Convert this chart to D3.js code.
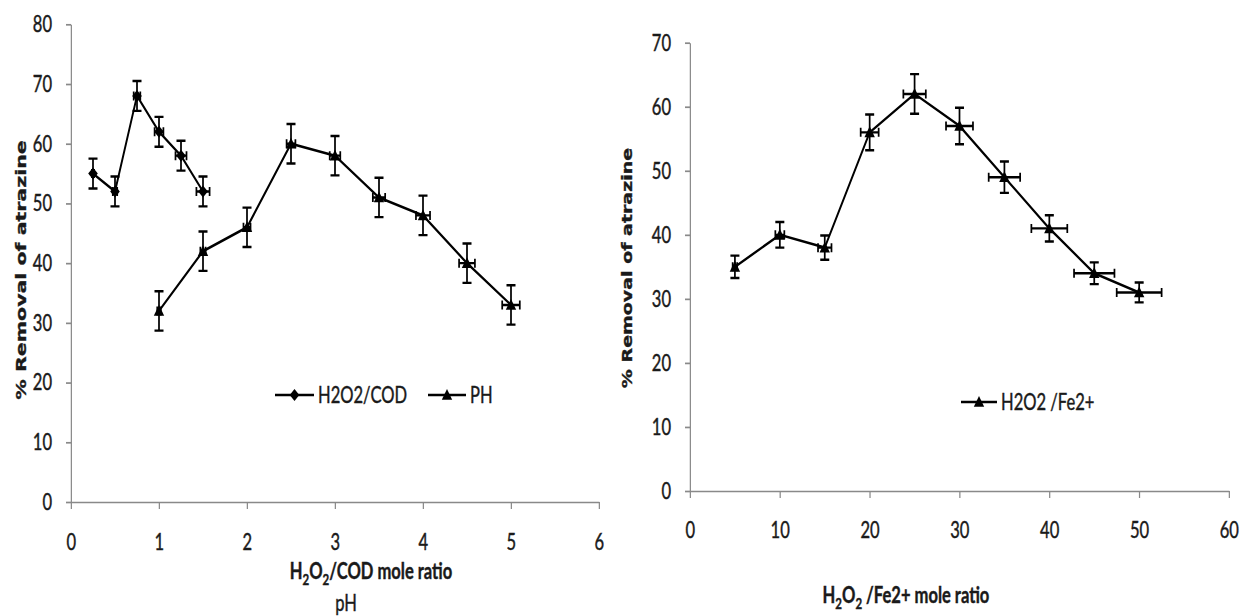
<!DOCTYPE html>
<html>
<head>
<meta charset="utf-8">
<script src="https://cdn.jsdelivr.net/npm/d3@7"></script>
<style>
  body { margin: 0; background: #fff; }
  svg { display: block; }
  svg text { stroke: #1a1a1a; stroke-width: 0.45px; }
</style>
</head>
<body>
<script>
// ---- data ----
// left panel: H2O2/COD series
var codX = [0.25, 0.5, 0.75, 1, 1.25, 1.5];
var codY = [55, 52, 68, 62, 58, 52];
var codYErr = [2.5, 2.5, 2.5, 2.5, 2.5, 2.5];
var codXErr = [0.0125, 0.025, 0.0375, 0.05, 0.0625, 0.075];
// left panel: PH series
var phX = [1, 1.5, 2, 2.5, 3, 3.5, 4, 4.5, 5];
var phY = [32, 42, 46, 60, 58, 51, 48, 40, 33];
var phYErr = [3.3, 3.3, 3.3, 3.3, 3.3, 3.3, 3.3, 3.3, 3.3];
var phXErr = [0.02, 0.03, 0.04, 0.05, 0.06, 0.07, 0.08, 0.09, 0.1];
// right panel: H2O2/Fe2+ series
var feX = [5, 10, 15, 20, 25, 30, 35, 40, 45, 50];
var feY = [35, 40, 38, 56, 62, 57, 49, 41, 34, 31];
var feYErr = [1.75, 2, 1.9, 2.8, 3.1, 2.85, 2.45, 2.05, 1.7, 1.55];
var feXErr = [0.25, 0.5, 0.75, 1, 1.25, 1.5, 1.75, 2, 2.25, 2.5];
// ticks
var leftXTicks = [0, 1, 2, 3, 4, 5, 6];
var leftYTicks = [0, 10, 20, 30, 40, 50, 60, 70, 80];
var rightXTicks = [0, 10, 20, 30, 40, 50, 60];
var rightYTicks = [0, 10, 20, 30, 40, 50, 60, 70];

/* the source image is squeezed horizontally, so draw wide and squash */
var W = 1241, H = 616, K = 0.72;
function sx(px) { return px / K; }

var svg = d3.select("body").append("svg")
  .attr("width", W).attr("height", H)
  .attr("viewBox", "0 0 " + (W / K) + " " + H)
  .attr("preserveAspectRatio", "none");

var axisColor = "#898989", textColor = "#1a1a1a";
var tickFont = "Lato, 'Open Sans', sans-serif";
var fs = 23;

function markerPath(type) {
  if (type === "diamond")
    return "M0,-6L" + sx(4.8) + ",0L0,6L" + (-sx(4.8)) + ",0Z";
  return "M0,-6L" + sx(5.2) + ",4.8L" + (-sx(5.2)) + ",4.8Z";
}

function styleAxis(sel) {
  sel.selectAll("path, line").attr("stroke", axisColor).attr("stroke-width", 1.7);
  sel.selectAll("text")
    .attr("fill", textColor)
    .style("font-family", tickFont)
    .style("font-size", fs + "px");
}

function panel(o) {
  var x = d3.scaleLinear().domain(o.xDomain).range([sx(o.left), sx(o.right)]);
  var y = d3.scaleLinear().domain(o.yDomain).range([o.bottom, o.top]);
  var g = svg.append("g");

  // axes
  g.append("g")
    .attr("transform", "translate(0," + y(0) + ")")
    .call(d3.axisBottom(x).tickValues(o.xTicks).tickSize(7).tickSizeOuter(0)
      .tickPadding(o.xPad).tickFormat(d3.format("d")))
    .call(styleAxis);
  g.append("g")
    .attr("transform", "translate(" + x(0) + ",0)")
    .call(d3.axisLeft(y).tickValues(o.yTicks).tickSize(sx(5)).tickSizeOuter(0)
      .tickPadding(sx(14)).tickFormat(d3.format("d")))
    .call(styleAxis);

  o.series.forEach(function(s) {
    var pts = s.x.map(function(v, i) {
      return { x: v, y: s.y[i], xe: s.xErr[i], ye: s.yErr[i] };
    });
    var line = d3.line().x(function(d) { return x(d.x); }).y(function(d) { return y(d.y); });
    g.append("path").datum(pts)
      .attr("d", line)
      .attr("fill", "none").attr("stroke", "#000").attr("stroke-width", 2.6);

    // error bars
    var eb = g.append("g").attr("stroke", "#000").attr("stroke-width", 2.4).attr("fill", "none");
    var cap = sx(4.5);
    eb.selectAll(".ey").data(pts).enter().append("path")
      .attr("d", function(d) {
        var cx = x(d.x), y0 = y(d.y - d.ye), y1 = y(d.y + d.ye);
        return "M" + cx + "," + y0 + "V" + y1 +
          "M" + (cx - cap) + "," + y0 + "H" + (cx + cap) +
          "M" + (cx - cap) + "," + y1 + "H" + (cx + cap);
      });
    eb.selectAll(".ex").data(pts).enter().append("path")
      .attr("d", function(d) {
        var cy = y(d.y), x0 = x(d.x - d.xe), x1 = x(d.x + d.xe);
        return "M" + x0 + "," + cy + "H" + x1 +
          "M" + x0 + "," + (cy - 4.5) + "V" + (cy + 4.5) +
          "M" + x1 + "," + (cy - 4.5) + "V" + (cy + 4.5);
      });

    g.selectAll(null).data(pts).enter().append("path")
      .attr("d", markerPath(s.marker))
      .attr("transform", function(d) { return "translate(" + x(d.x) + "," + y(d.y) + ")"; })
      .attr("fill", "#000");
  });

  // legend
  o.legend.forEach(function(l) {
    g.append("line")
      .attr("x1", sx(l.x0)).attr("x2", sx(l.x1)).attr("y1", l.y).attr("y2", l.y)
      .attr("stroke", "#000").attr("stroke-width", 2.6);
    g.append("path")
      .attr("d", markerPath(l.marker))
      .attr("transform", "translate(" + sx((l.x0 + l.x1) / 2) + "," + l.y + ")")
      .attr("fill", "#000");
    g.append("text")
      .attr("x", sx(l.x1 + 4)).attr("y", l.y + 8)
      .attr("fill", textColor)
      .style("font-family", tickFont).style("font-size", fs + "px")
      .text(l.label);
  });

  // y title
  g.append("text")
    .attr("transform", "translate(" + sx(o.yTitleX) + "," + o.yTitleY + ") rotate(-90)")
    .attr("text-anchor", "middle").attr("dy", "0.36em")
    .attr("fill", textColor)
    .style("font-family", "'DejaVu Sans', Verdana, sans-serif")
    .style("font-weight", "bold").style("font-size", o.yTitleSize + "px")
    .text("% Removal of atrazine");

  return g;
}

function subTitle(g, cx, cy, parts) {
  var t = g.append("text")
    .attr("x", sx(cx)).attr("y", cy)
    .attr("text-anchor", "middle")
    .attr("fill", textColor)
    .style("font-family", tickFont).style("font-weight", "bold").style("font-size", fs + "px");
  var shift = 0;
  parts.forEach(function(p) {
    var dy = (p.sub ? 6 : 0) - shift;
    shift = p.sub ? 6 : 0;
    t.append("tspan").attr("dy", dy)
      .style("font-size", p.sub ? "16px" : null)
      .text(p.t);
  });
}

var leftG = panel({
  xDomain: [0, 6], yDomain: [0, 80],
  left: 71, right: 599, bottom: 502, top: 24.3,
  xTicks: leftXTicks, yTicks: leftYTicks, xPad: 25,
  series: [
    { x: codX, y: codY, xErr: codXErr, yErr: codYErr, marker: "diamond" },
    { x: phX, y: phY, xErr: phXErr, yErr: phYErr, marker: "triangle" }
  ],
  legend: [
    { x0: 275, x1: 314, y: 395, marker: "diamond", label: "H2O2/COD" },
    { x0: 428, x1: 466, y: 395, marker: "triangle", label: "PH" }
  ],
  yTitleX: 21, yTitleY: 270, yTitleSize: 20.5
});
subTitle(leftG, 371, 579, [
  { t: "H" }, { t: "2", sub: true }, { t: "O" }, { t: "2", sub: true }, { t: "/COD mole ratio" }
]);
leftG.append("text")
  .attr("x", sx(346)).attr("y", 611)
  .attr("text-anchor", "middle")
  .attr("fill", textColor)
  .style("font-family", tickFont).style("font-size", fs + "px")
  .text("pH");

var rightG = panel({
  xDomain: [0, 60], yDomain: [0, 70],
  left: 690, right: 1229, bottom: 491, top: 42.7,
  xTicks: rightXTicks, yTicks: rightYTicks, xPad: 24,
  series: [
    { x: feX, y: feY, xErr: feXErr, yErr: feYErr, marker: "triangle" }
  ],
  legend: [
    { x0: 961, x1: 997, y: 402, marker: "triangle", label: "H2O2 /Fe2+" }
  ],
  yTitleX: 627, yTitleY: 268, yTitleSize: 19
});
subTitle(rightG, 906, 603, [
  { t: "H" }, { t: "2", sub: true }, { t: "O" }, { t: "2", sub: true }, { t: " /Fe2+ mole ratio" }
]);
</script>
</body>
</html>
